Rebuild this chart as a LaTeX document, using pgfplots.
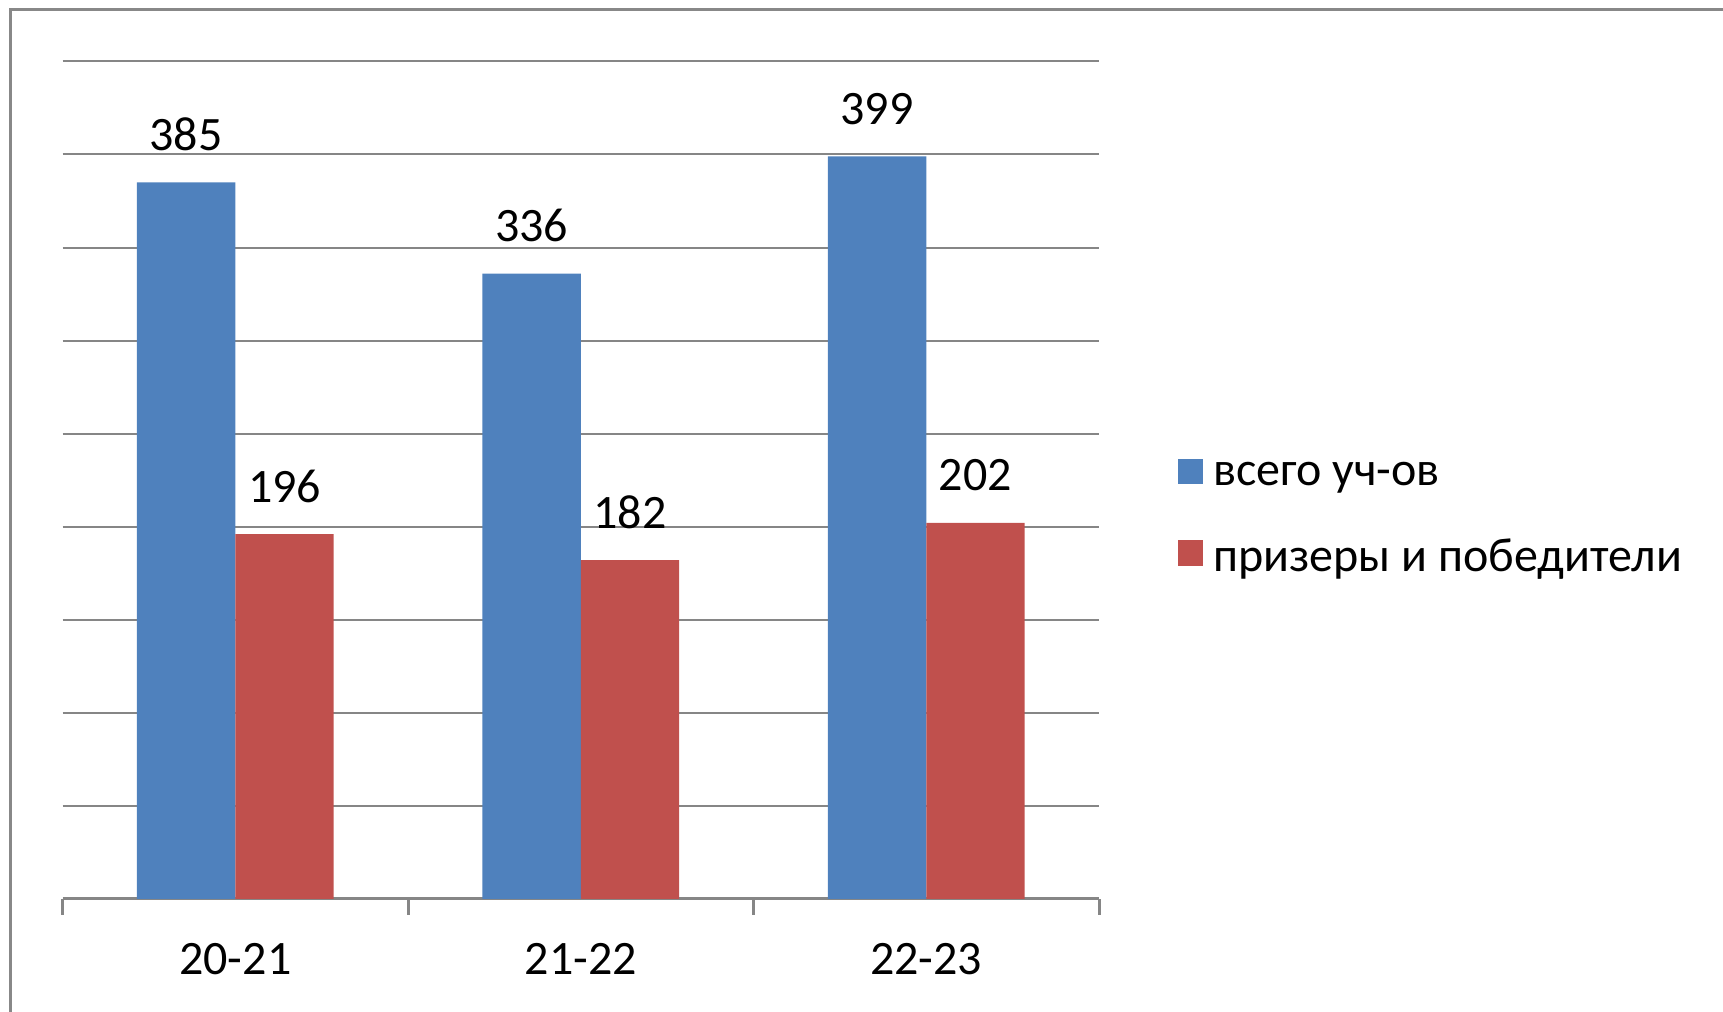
\documentclass[border=0pt]{standalone}
\usepackage{fontspec}
\setmainfont{Carlito}
\usepackage{pgfplots}
\pgfplotsset{compat=1.18}
\definecolor{cblue}{HTML}{4F81BD}
\definecolor{cred}{HTML}{C0504D}
\definecolor{cgrid}{HTML}{868686}
\definecolor{cframe}{HTML}{888888}
\begin{document}
\begin{tikzpicture}
\useasboundingbox (0,0) rectangle (430.75pt,253pt);
\draw[cframe,line width=0.75pt] (2.5pt,0) -- (2.5pt,250.5pt) -- (430.75pt,250.5pt);
\begin{axis}[
  at={(15.65pt,28.25pt)}, anchor=south west,
  scale only axis, width=259.1pt, height=209.4pt,
  xmin=-0.5, xmax=2.5, ymin=0, ymax=450,
  font=\fontsize{12}{14}\selectfont,
  /pgf/number format/assume math mode=true,
  axis x line*=bottom, axis y line*=left,
  y axis line style={draw=none},
  x axis line style={cgrid, line width=0.75pt},
  ytick={0,50,...,450}, yticklabels={}, ytick style={draw=none},
  ymajorgrids, grid style={cgrid, line width=0.5pt},
  xtick={0,1,2}, xticklabels={20-21,21-22,22-23},
  xtick style={draw=none},
  xticklabel style={yshift=-3.4pt},
  extra x ticks={-0.5,0.5,1.5,2.5}, extra x tick labels={},
  extra x tick style={grid=none, major tick length=4pt, tick align=outside,
     xtick style={draw=cgrid, line width=0.75pt}},
  ybar, bar width=0.2847,
  nodes near coords,
  nodes near coords style={font=\fontsize{12}{14}\selectfont, yshift=4.4pt, text=black},
  legend style={at={(1.075,0.453)}, anchor=west, draw=none, fill=none,
     inner sep=0pt, row sep=9.45pt, font=\fontsize{12}{14}\selectfont,
     nodes={inner sep=1.2pt}},
  legend cell align=left,
  legend image code/.code={\fill[#1,draw=none] (0pt,-1.95pt) rectangle (6.3pt,4.35pt); \path (7.7pt,0pt);},
]
\addplot[fill=cblue, draw=none, bar shift=-0.14235] coordinates {(0,385) (1,336) (2,399)};
\addplot[fill=cred, draw=none, bar shift=0.14235] coordinates {(0,196) (1,182) (2,202)};
\legend{всего уч-ов, призеры и победители}
\end{axis}
\end{tikzpicture}
\end{document}
